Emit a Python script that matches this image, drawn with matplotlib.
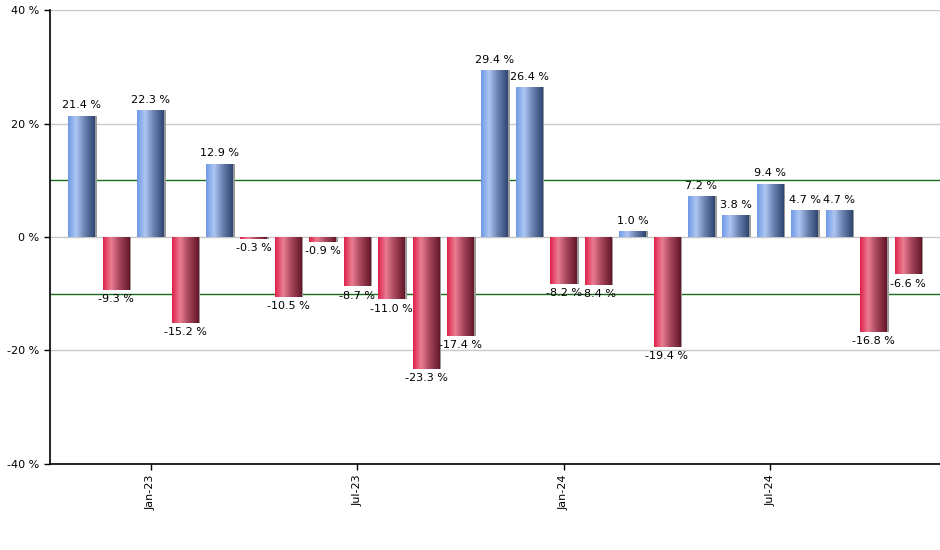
import numpy as np
import matplotlib
matplotlib.use("Agg")
import matplotlib.pyplot as plt
from matplotlib.colors import LinearSegmentedColormap

# monthly change, Nov-22 .. Nov-24
months = ["Nov-22", "Dec-22", "Jan-23", "Feb-23", "Mar-23", "Apr-23", "May-23",
          "Jun-23", "Jul-23", "Aug-23", "Sep-23", "Oct-23", "Nov-23", "Dec-23",
          "Jan-24", "Feb-24", "Mar-24", "Apr-24", "May-24", "Jun-24", "Jul-24",
          "Aug-24", "Sep-24", "Oct-24", "Nov-24"]
values = [21.4, -9.3, 22.3, -15.2, 12.9, -0.3, -10.5, -0.9, -8.7, -11.0, -23.3,
          -17.4, 29.4, 26.4, -8.2, -8.4, 1.0, -19.4, 7.2, 3.8, 9.4, 4.7, 4.7,
          -16.8, -6.6]
tick_labels = ["Jan-23", "Jul-23", "Jan-24", "Jul-24"]
yticks = [-40, -20, 0, 20, 40]

blue_cmap = LinearSegmentedColormap.from_list(
    "blue", [(0, "#6f98e6"), (0.3, "#adc7f3"), (0.6, "#6d86b4"), (1, "#2e4370")])
red_cmap = LinearSegmentedColormap.from_list(
    "red", [(0, "#de2049"), (0.3, "#ea7d92"), (0.6, "#a9485e"), (1, "#641628")])

fig = plt.figure(figsize=(9.4, 5.5), dpi=100)
ax = fig.add_axes([0.0532, 0.1564, 0.9468, 0.8254])

x = np.arange(len(values))
width = 0.78

ax.set_ylim(-40, 40)
ax.set_xlim(-0.92, len(values) - 0.07)

# grid + reference lines
for y in yticks:
    ax.axhline(y, color="#c8c8c8", lw=1, zorder=0)
for y in (-10, 10):
    ax.axhline(y, color="#1a6b1a", lw=1, zorder=0.5)

# shadows
ax.bar(x + 0.05, values, width=width, color="#9a9a9a", zorder=1)
bars = ax.bar(x, values, width=width, color="none", zorder=2)

grad = np.linspace(0, 1, 256).reshape(1, -1)
for b, v in zip(bars, values):
    x0, y0 = b.get_x(), b.get_y()
    x1, y1 = x0 + b.get_width(), y0 + b.get_height()
    im = ax.imshow(grad, cmap=blue_cmap if v >= 0 else red_cmap,
                   extent=[x0, x1, min(y0, y1), max(y0, y1)],
                   aspect="auto", zorder=2, interpolation="bilinear")
    im.set_clip_path(b)
    if v >= 0:
        ax.annotate(f"{v:.1f} %", (x0 + width / 2, v), xytext=(0, 4),
                    textcoords="offset points", ha="center", va="bottom",
                    fontsize=8)
    else:
        ax.annotate(f"{v:.1f} %", (x0 + width / 2, v), xytext=(0, -3),
                    textcoords="offset points", ha="center", va="top",
                    fontsize=8)

ax.set_yticks(yticks)
ax.set_yticklabels([f"{t} %" for t in yticks], fontsize=8)
ax.set_xticks([months.index(t) for t in tick_labels])
ax.set_xticklabels(tick_labels, rotation=90, fontsize=8)
ax.tick_params(axis="both", length=4, width=1, color="black")

for s in ("top", "right"):
    ax.spines[s].set_visible(False)
for s in ("left", "bottom"):
    ax.spines[s].set_color("black")
    ax.spines[s].set_linewidth(1.2)

fig.savefig("out.png", dpi=100)
